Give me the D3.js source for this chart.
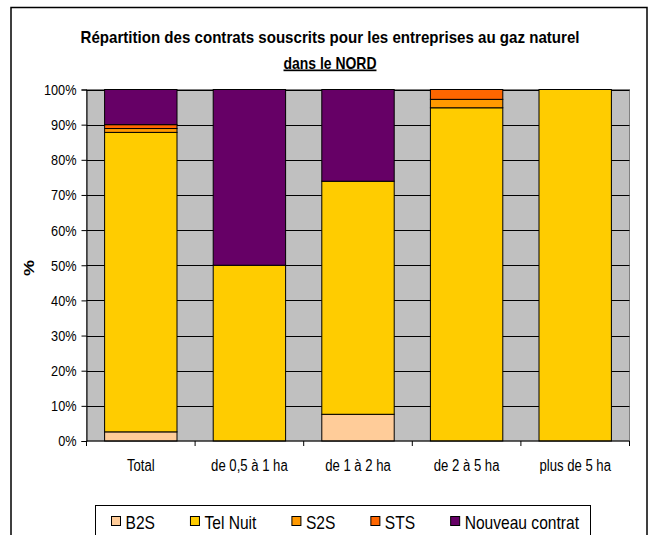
<!DOCTYPE html>
<html>
<head>
<meta charset="utf-8">
<script src="https://cdn.jsdelivr.net/npm/d3@7"></script>
<style>
  body { margin: 0; background: #fff; }
  svg text { font-family: "Liberation Sans", Arial, sans-serif; fill: #000; }
</style>
</head>
<body>
<div id="chart"></div>
<script>
// categories and series (percent of contracts)
var categories = ["Total", "de 0,5 à 1 ha", "de 1 à 2 ha", "de 2 à 5 ha", "plus de 5 ha"];
var seriesNames = ["B2S", "Tel Nuit", "S2S", "STS", "Nouveau contrat"];
var b2s = [2.6, 0, 7.6, 0, 0];
var telNuit = [85.2, 50, 66.3, 94.8, 100];
var s2s = [1.1, 0, 0, 2.4, 0];
var sts = [1.1, 0, 0, 2.8, 0];
var nouveau = [10.0, 50, 26.1, 0, 0];
var yTicks = [0, 10, 20, 30, 40, 50, 60, 70, 80, 90, 100];

var colors = ["#FFCC99", "#FFCC00", "#FF9900", "#FF6600", "#660066"];

var width = 653, height = 535;
var plot = {left: 86.5, right: 629.5, top: 89.5, bottom: 441};
var squeeze = 0.82; // the original text is drawn condensed

// condense a text selection horizontally
function narrow(sel, len) {
    sel.each(function () {
        var w = len || this.getComputedTextLength() * squeeze;
        d3.select(this).attr('textLength', w).attr('lengthAdjust', 'spacingAndGlyphs');
    });
    return sel;
}

var svg = d3.select('#chart').append('svg')
    .attr('width', width)
    .attr('height', height);

// outer chart frame
svg.append('rect')
    .attr('x', 11).attr('y', 7.5)
    .attr('width', 636).attr('height', 600)
    .attr('fill', '#fff').attr('stroke', '#000').attr('stroke-width', 1.5);

// title
narrow(svg.append('text')
    .attr('x', 330).attr('y', 43)
    .attr('text-anchor', 'middle')
    .style('font-weight', 'bold').style('font-size', '17px')
    .text('Répartition des contrats souscrits pour les entreprises au gaz naturel'), 499);
narrow(svg.append('text')
    .attr('x', 330).attr('y', 68.5)
    .attr('text-anchor', 'middle')
    .style('font-weight', 'bold').style('font-size', '17px')
    .style('text-decoration', 'underline')
    .text('dans le NORD'));

var x = d3.scaleBand()
    .domain(categories)
    .range([plot.left, plot.right])
    .paddingInner(1 / 3)
    .paddingOuter(1 / 6);

var y = d3.scaleLinear()
    .domain([0, 100])
    .range([plot.bottom, plot.top]);

// plot area background
svg.append('rect')
    .attr('x', plot.left).attr('y', plot.top)
    .attr('width', plot.right - plot.left).attr('height', plot.bottom - plot.top)
    .attr('fill', '#C0C0C0').attr('stroke', '#808080').attr('stroke-width', 1);

// gridlines
svg.append('g').selectAll('line')
    .data(yTicks.slice(1))
    .enter().append('line')
    .attr('x1', plot.left).attr('x2', plot.right)
    .attr('y1', function (d) { return Math.round(y(d)) + 0.5; })
    .attr('y2', function (d) { return Math.round(y(d)) + 0.5; })
    .attr('stroke', '#000').attr('stroke-width', 1);

// stacked bars
var table = categories.map(function (c, i) {
    return {cat: c, "B2S": b2s[i], "Tel Nuit": telNuit[i], "S2S": s2s[i], "STS": sts[i], "Nouveau contrat": nouveau[i]};
});
var stacked = d3.stack().keys(seriesNames)(table);

svg.append('g').selectAll('g')
    .data(stacked)
    .enter().append('g')
    .attr('fill', function (d, i) { return colors[i]; })
    .selectAll('rect')
    .data(function (d) { return d.filter(function (p) { return p[1] - p[0] > 0; }); })
    .enter().append('rect')
    .attr('x', function (d) { return x(d.data.cat); })
    .attr('y', function (d) { return y(d[1]); })
    .attr('width', x.bandwidth())
    .attr('height', function (d) { return y(d[0]) - y(d[1]); })
    .attr('stroke', '#000').attr('stroke-width', 1);

// y axis
var yAxis = d3.axisLeft(y)
    .tickValues(yTicks)
    .tickSize(5)
    .tickPadding(5)
    .tickFormat(function (d) { return d + '%'; });

var gy = svg.append('g')
    .attr('transform', 'translate(' + plot.left + ',0)')
    .call(yAxis);
gy.attr('font-family', null).attr('font-size', null);
gy.selectAll('text').style('font-size', '15.5px');
narrow(gy.selectAll('text'));
gy.selectAll('path, line').attr('stroke', '#000');

// x axis: line and ticks at category boundaries
var gx = svg.append('g');
gx.append('line')
    .attr('x1', plot.left).attr('x2', plot.right)
    .attr('y1', plot.bottom).attr('y2', plot.bottom)
    .attr('stroke', '#000');
var boundaries = categories.map(function (c) { return x(c) - x.step() * x.paddingInner() / 2; })
    .concat([plot.right]);
gx.selectAll('line.tick')
    .data(boundaries)
    .enter().append('line')
    .attr('class', 'tick')
    .attr('x1', function (d) { return d; }).attr('x2', function (d) { return d; })
    .attr('y1', plot.bottom).attr('y2', plot.bottom + 5)
    .attr('stroke', '#000');
narrow(gx.selectAll('text')
    .data(categories)
    .enter().append('text')
    .attr('x', function (d) { return x(d) + x.bandwidth() / 2; })
    .attr('y', 470.5)
    .attr('text-anchor', 'middle')
    .style('font-size', '16px')
    .text(function (d) { return d; }));

// y axis title
svg.append('text')
    .attr('transform', 'translate(34,268) rotate(-90) scale(1,0.82)')
    .attr('text-anchor', 'middle')
    .style('font-weight', 'bold').style('font-size', '18px')
    .text('%');

// legend
var legend = svg.append('g');
legend.append('rect')
    .attr('x', 95.5).attr('y', 505.5)
    .attr('width', 495).attr('height', 60)
    .attr('fill', '#fff').attr('stroke', '#000').attr('stroke-width', 1);

var lx = 111.5;
seriesNames.forEach(function (name, i) {
    legend.append('rect')
        .attr('x', lx).attr('y', 516.5)
        .attr('width', 9).attr('height', 9)
        .attr('fill', colors[i]).attr('stroke', '#000').attr('stroke-width', 1);
    var t = legend.append('text')
        .attr('x', lx + 14).attr('y', 529)
        .style('font-size', '19px')
        .text(name);
    var w = t.node().getComputedTextLength() * squeeze;
    narrow(t, w);
    lx += 14 + w + 35.5;
});
</script>
</body>
</html>
